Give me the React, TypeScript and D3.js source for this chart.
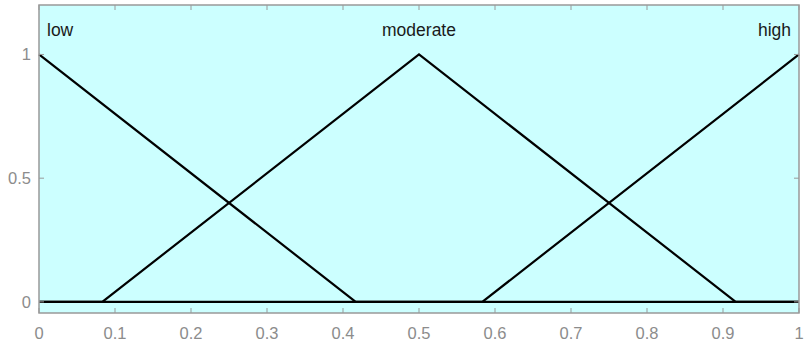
import React from 'react';
import * as d3 from 'd3';

// membership functions (triangular): [a, b, c]
const mfNames = ['low', 'moderate', 'high'];
const mfParams = [
  [-0.4167, 0, 0.4167],
  [0.0833, 0.5, 0.9167],
  [0.5833, 1, 1.4167],
];
const xTicks = [0, 0.1, 0.2, 0.3, 0.4, 0.5, 0.6, 0.7, 0.8, 0.9, 1];
const yTicks = [0, 0.5, 1];

const W = 805;
const H = 345;
const left = 39, right = 799, top = 5, bottom = 313;

const trimf = (x: number, [a, b, c]: number[]) =>
  Math.max(0, Math.min((x - a) / (b - a), (c - x) / (c - b)));

export default function App() {
  const x = d3.scaleLinear().domain([0, 1]).range([left, right]);
  const y = d3.scaleLinear().domain([-0.045, 1.2]).range([bottom, top]);

  const line = d3.line<[number, number]>()
    .x(d => x(d[0]))
    .y(d => y(d[1]));

  // corner points of each mf inside [0, 1]
  const mfPoints = mfParams.map(p => {
    const xs = [0, ...p.filter(v => v > 0 && v < 1), 1].sort((a, b) => a - b);
    return xs.map(v => [v, trimf(v, p)] as [number, number]);
  });

  const axisColor = '#999999';
  const labelColor = '#8c8c8c';
  const tl = 5;

  return (
    <svg width={W} height={H} style={{ position: 'absolute', left: 0, top: 0, fontFamily: 'Arial, "Liberation Sans", sans-serif' }}>
      <rect x={0} y={0} width={W} height={H} fill="#ffffff" />
      <rect x={left} y={top} width={right - left} height={bottom - top} fill="#ccffff" />

      {mfPoints.map((pts, i) => (
        <path key={i} d={line(pts) || ''} stroke="#000" strokeWidth={2.2} fill="none" />
      ))}

      {mfNames.map((name, i) => {
        const peak = mfParams[i][1];
        const anchor = peak <= 0 ? 'start' : peak >= 1 ? 'end' : 'middle';
        const dx = peak <= 0 ? 8 : peak >= 1 ? -8 : 0;
        return (
          <text key={name} x={x(peak) + dx} y={36} fontSize={17.5} fill="#1a1a1a" textAnchor={anchor}>
            {name}
          </text>
        );
      })}

      {/* box */}
      <rect x={left} y={top} width={right - left} height={bottom - top} fill="none" stroke={axisColor} strokeWidth={1.5} />

      {xTicks.map(t => (
        <g key={'x' + t}>
          <line x1={x(t)} x2={x(t)} y1={bottom} y2={bottom - tl} stroke={axisColor} />
          <line x1={x(t)} x2={x(t)} y1={top} y2={top + tl} stroke={axisColor} />
          <text x={x(t)} y={339} fontSize={16.5} fill={labelColor} textAnchor="middle">{t}</text>
        </g>
      ))}
      {yTicks.map(t => (
        <g key={'y' + t}>
          <line x1={left} x2={left + tl} y1={y(t)} y2={y(t)} stroke={axisColor} />
          <line x1={right} x2={right - tl} y1={y(t)} y2={y(t)} stroke={axisColor} />
          <text x={left - 8} y={y(t) + 6} fontSize={16.5} fill={labelColor} textAnchor="end">{t}</text>
        </g>
      ))}
    </svg>
  );
}
